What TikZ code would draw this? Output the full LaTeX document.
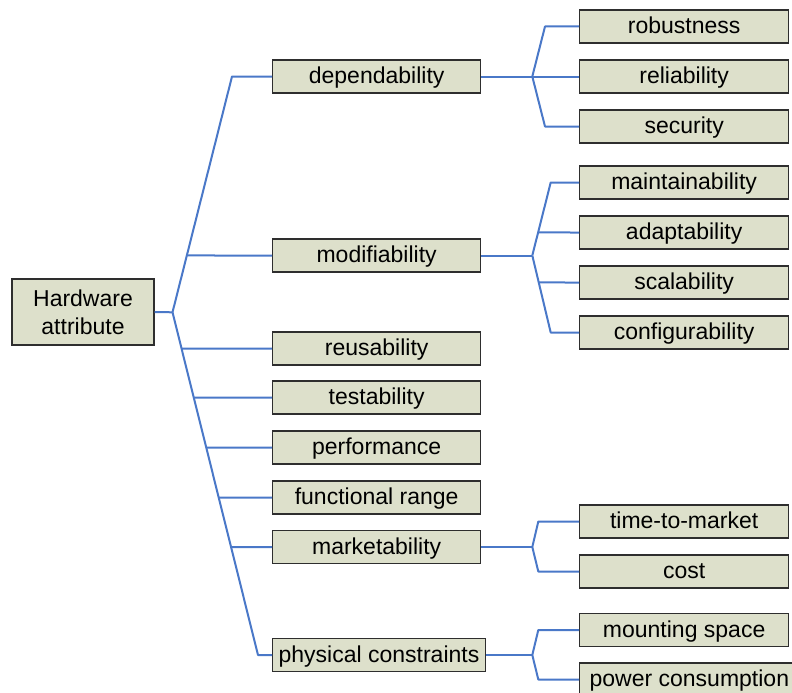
\documentclass[tikz,border=0pt]{standalone}
\usepackage{fontspec}
\setmainfont{Liberation Sans}
\definecolor{boxfill}{HTML}{DDE0CB}
\definecolor{boxline}{HTML}{2E2E2E}
\definecolor{link}{HTML}{4A78C8}
\tikzset{
  attr/.style={draw=boxline, line width=1.3pt, fill=boxfill, inner xsep=6pt, inner ysep=0pt,
    minimum height=33pt, text height=18pt, text depth=3.3pt,
    font=\fontsize{23}{27}\selectfont, anchor=west},
  lvltwo/.style={attr, minimum width=208pt},
  lvlthree/.style={attr, minimum width=209pt},
  rootbox/.style={draw=boxline, line width=1.3pt, fill=boxfill, minimum width=142pt,
    minimum height=66pt, align=center, font=\fontsize{23}{28}\selectfont},
  conn/.style={draw=link, line width=2pt, line join=round}
}
\begin{document}
\begin{tikzpicture}[x=1pt, y=-1pt]
\useasboundingbox (0,0) rectangle (792,693);
\clip (0,0) rectangle (792,693);
\coordinate (O) at (0,0);

% root
\node[rootbox] (root) at (83,312) {Hardware\\attribute};

% second level
\node[lvltwo] (dep)  at (272,76.5)  {dependability};
\node[lvltwo] (mod)  at (272,255.5) {modifiability};
\node[lvltwo] (reu)  at (272,348.5) {reusability};
\node[lvltwo] (tes)  at (272,397.5) {testability};
\node[lvltwo] (per)  at (272,447.5) {performance};
\node[lvltwo] (fun)  at (272,497.5) {functional range};
\node[lvltwo] (mar)  at (272,547)   {marketability};
\node[lvltwo] (phy)  at (272,655)   {physical constraints};

% third level
\node[lvlthree] (rob)  at (579,26.5)  {robustness};
\node[lvlthree] (rel)  at (579,76.5)  {reliability};
\node[lvlthree] (sec)  at (579,126.5) {security};
\node[lvlthree] (mai)  at (579,182.5) {maintainability};
\node[lvlthree] (ada)  at (579,232.5) {adaptability};
\node[lvlthree] (sca)  at (579,282.5) {scalability};
\node[lvlthree] (cfg)  at (579,332.5) {configurability};
\node[lvlthree] (ttm)  at (579,521.5) {time-to-market};
\node[lvlthree] (cst)  at (579,571.5) {cost};
\node[lvlthree] (mnt)  at (579,630)   {mounting space};
\node[lvlthree, inner xsep=10pt] (pwr)  at (579,679.5) {power consumption};

% trunk from the root
\coordinate (J0) at (172.5,312.3);
\coordinate (T0) at (dep.west -| 232,0);
\coordinate (B0) at (phy.west -| 258,0);
\draw[conn] (root.east) -- (J0);
\draw[conn] (J0) -- (T0) -- (dep.west);
\draw[conn] (J0) -- (B0) -- (phy.west);
\coordinate (mod-l) at (mod.west -| O);
\draw[conn] (intersection of J0--T0 and mod.west--mod-l) -- (mod.west);
\foreach \n in {reu,tes,per,fun,mar}{
  \coordinate (\n-l) at (\n.west -| O);
  \draw[conn] (intersection of J0--B0 and \n.west--\n-l) -- (\n.west);
}

% dependability
\coordinate (dJ) at (dep.east -| 532.3,0);
\coordinate (dT) at (rob.west -| 545,0);
\coordinate (dB) at (sec.west -| 545,0);
\draw[conn] (dep.east) -- (dJ) -- (rel.west);
\draw[conn] (dJ) -- (dT) -- (rob.west);
\draw[conn] (dJ) -- (dB) -- (sec.west);

% modifiability
\coordinate (mJ) at (mod.east -| 532.3,0);
\coordinate (mT) at (mai.west -| 550.7,0);
\coordinate (mB) at (cfg.west -| 550.7,0);
\coordinate (ada-l) at (ada.west -| O);
\coordinate (sca-l) at (sca.west -| O);
\draw[conn] (mod.east) -- (mJ);
\draw[conn] (mJ) -- (mT) -- (mai.west);
\draw[conn] (mJ) -- (mB) -- (cfg.west);
\draw[conn] (intersection of mJ--mT and ada.west--ada-l) -- (ada.west);
\draw[conn] (intersection of mJ--mB and sca.west--sca-l) -- (sca.west);

% marketability
\coordinate (kJ) at (mar.east -| 532.3,0);
\coordinate (kT) at (ttm.west -| 538.3,0);
\coordinate (kB) at (cst.west -| 538.3,0);
\draw[conn] (mar.east) -- (kJ);
\draw[conn] (kJ) -- (kT) -- (ttm.west);
\draw[conn] (kJ) -- (kB) -- (cst.west);

% physical constraints
\coordinate (pJ) at (phy.east -| 532.3,0);
\coordinate (pT) at (mnt.west -| 538.3,0);
\coordinate (pB) at (pwr.west -| 538.3,0);
\draw[conn] (phy.east) -- (pJ);
\draw[conn] (pJ) -- (pT) -- (mnt.west);
\draw[conn] (pJ) -- (pB) -- (pwr.west);
\end{tikzpicture}
\end{document}
